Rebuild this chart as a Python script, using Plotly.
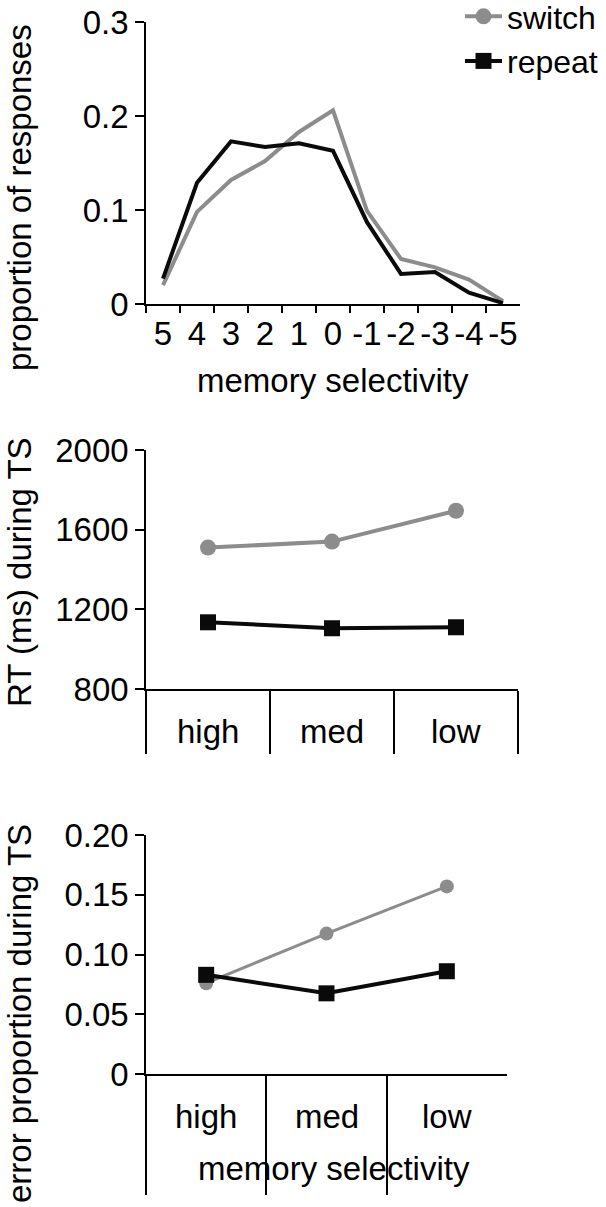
import plotly.graph_objects as go

# ---- data ----
selectivity = ["5", "4", "3", "2", "1", "0", "-1", "-2", "-3", "-4", "-5"]
dist_switch = [0.020, 0.098, 0.132, 0.152, 0.183, 0.206, 0.099, 0.048, 0.039, 0.026, 0.003]
dist_repeat = [0.027, 0.129, 0.173, 0.167, 0.171, 0.163, 0.087, 0.032, 0.034, 0.012, 0.001]

levels = ["high", "med", "low"]
rt_switch = [1510, 1540, 1695]
rt_repeat = [1135, 1105, 1110]
err_switch = [0.076, 0.1175, 0.157]
err_repeat = [0.083, 0.0675, 0.086]

GRAY = "#8c8c8c"
BLACK = "#0a0a0a"
FONT = "Liberation Sans, Arial, Helvetica, sans-serif"
FS = 33
W, H = 606, 1207


def px(x):
    return x / W


def py(y):
    return 1 - y / H


fig = go.Figure()

# top panel
fig.add_trace(go.Scatter(x=selectivity, y=dist_switch, mode="lines",
                         line=dict(color=GRAY, width=4), showlegend=False,
                         xaxis="x", yaxis="y"))
fig.add_trace(go.Scatter(x=selectivity, y=dist_repeat, mode="lines",
                         line=dict(color=BLACK, width=4), showlegend=False,
                         xaxis="x", yaxis="y"))

# RT panel
fig.add_trace(go.Scatter(x=levels, y=rt_switch, mode="lines+markers", name="switch",
                         line=dict(color=GRAY, width=4),
                         marker=dict(symbol="circle", size=16, color=GRAY),
                         xaxis="x2", yaxis="y2"))
fig.add_trace(go.Scatter(x=levels, y=rt_repeat, mode="lines+markers", name="repeat",
                         line=dict(color=BLACK, width=4),
                         marker=dict(symbol="square", size=16, color=BLACK),
                         xaxis="x2", yaxis="y2"))

# error panel
fig.add_trace(go.Scatter(x=levels, y=err_switch, mode="lines+markers",
                         line=dict(color=GRAY, width=3),
                         marker=dict(symbol="circle", size=14, color=GRAY),
                         showlegend=False, xaxis="x3", yaxis="y3"))
fig.add_trace(go.Scatter(x=levels, y=err_repeat, mode="lines+markers",
                         line=dict(color=BLACK, width=4),
                         marker=dict(symbol="square", size=16, color=BLACK),
                         showlegend=False, xaxis="x3", yaxis="y3"))

axis_common = dict(showline=True, linecolor="black", linewidth=1.5,
                   ticks="outside", tickwidth=1.5, tickcolor="black",
                   showgrid=False, zeroline=False,
                   tickfont=dict(family=FONT, size=FS, color="black"))

fig.update_layout(
    width=W, height=H,
    margin=dict(l=0, r=0, t=0, b=0, autoexpand=False),
    paper_bgcolor="white", plot_bgcolor="white",
    font=dict(family=FONT, size=FS, color="black"),
    xaxis=dict(axis_common, type="category", categoryorder="array",
               categoryarray=selectivity, range=[-0.5, 10.5],
               domain=[px(146), px(520)], anchor="y", tickson="boundaries",
               tickmode="linear", tick0=0, dtick=1, tickangle=0,
               ticklen=7),
    yaxis=dict(axis_common, range=[0, 0.3], domain=[py(304), py(22)],
               anchor="x", tickvals=[0, 0.1, 0.2, 0.3],
               ticktext=["0", "0.1", "0.2", "0.3"], ticklen=9),
    xaxis2=dict(axis_common, type="category", categoryorder="array",
                categoryarray=levels, range=[-0.5, 2.5],
                domain=[px(146), px(518)], anchor="y2", tickson="boundaries",
                ticklen=63, showticklabels=False),
    yaxis2=dict(axis_common, range=[800, 2000], domain=[py(689), py(450)],
                anchor="x2", tickvals=[800, 1200, 1600, 2000], ticklen=9),
    xaxis3=dict(axis_common, type="category", categoryorder="array",
                categoryarray=levels, range=[-0.5, 2.5],
                domain=[px(146), px(507)], anchor="y3", tickson="boundaries",
                ticklen=119, showticklabels=False),
    yaxis3=dict(axis_common, range=[0, 0.2], domain=[py(1074), py(835)],
                anchor="x3", tickvals=[0, 0.05, 0.10, 0.15, 0.20],
                ticktext=["0", "0.05", "0.10", "0.15", "0.20"], ticklen=9),
    legend=dict(x=px(460), y=py(-11), xanchor="left", yanchor="top",
                bgcolor="rgba(0,0,0,0)", borderwidth=0, itemwidth=37,
                font=dict(family=FONT, size=32, color="black")),
)

annotations = []
# y titles
for text, yc in [("proportion of responses", 198), ("RT (ms) during TS", 572),
                 ("error proportion during TS", 1014)]:
    annotations.append(dict(text=text, x=px(19), y=py(yc), xref="paper", yref="paper",
                            xanchor="center", yanchor="middle", textangle=-90,
                            showarrow=False, font=dict(family=FONT, size=FS)))
# x titles
annotations.append(dict(text="memory selectivity", x=0.5, y=py(380), xref="x domain",
                        yref="paper", xanchor="center", yanchor="middle",
                        showarrow=False, font=dict(family=FONT, size=FS)))
annotations.append(dict(text="memory selectivity", x=px(334), y=py(1168), xref="paper",
                        yref="paper", xanchor="center", yanchor="middle",
                        showarrow=False, font=dict(family=FONT, size=FS)))
# category labels
for lv in levels:
    annotations.append(dict(text=lv, x=lv, y=py(731), xref="x2", yref="paper",
                            xanchor="center", yanchor="middle", showarrow=False,
                            font=dict(family=FONT, size=FS)))
    annotations.append(dict(text=lv, x=lv, y=py(1116), xref="x3", yref="paper",
                            xanchor="center", yanchor="middle", showarrow=False,
                            font=dict(family=FONT, size=FS)))
fig.update_layout(annotations=annotations)

fig.write_html("out.html")
